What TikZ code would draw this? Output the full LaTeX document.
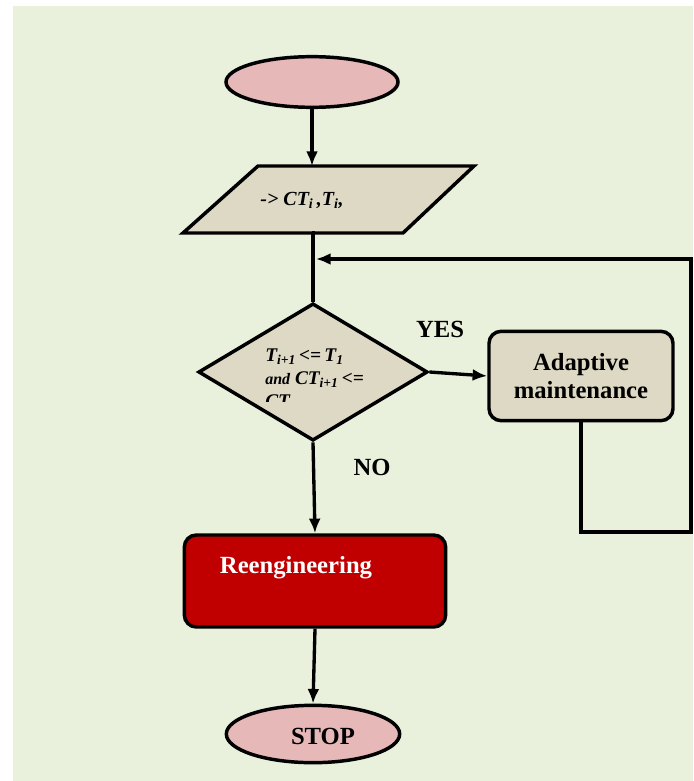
\documentclass[tikz,border=0pt]{standalone}
\usepackage{fontspec}
\setmainfont{Liberation Serif}
\usepackage{tikz}
\usetikzlibrary{positioning,shapes.geometric,arrows.meta}
\definecolor{bgGreen}{RGB}{233,240,220}
\definecolor{pinkFill}{RGB}{230,184,183}
\definecolor{beigeFill}{RGB}{221,217,196}
\definecolor{darkRed}{RGB}{192,0,0}

\begin{document}
\begin{tikzpicture}[x=0.75pt,y=-0.75pt,
	flow/.style={line width=2.5pt,-{Latex[length=11pt,width=9pt]}},
	link/.style={line width=2.5pt},
	terminal/.style={ellipse,draw,line width=2.6pt,fill=pinkFill,inner sep=0pt},
	decision/.style={diamond,draw,line width=2.6pt,fill=beigeFill,inner sep=0pt},
	process/.style={rectangle,rounded corners=9pt,draw,line width=2.6pt,inner sep=0pt},
	tag/.style={font=\fontsize{18.5}{21}\selectfont\bfseries}
	]
				% Page and background
				\useasboundingbox (0,0) rectangle (693,781);
				\fill[bgGreen] (13,6) rectangle (693,781);
				% Start and input
				\node[terminal,minimum width=129pt,minimum height=38pt] (start) at (312,82) {};
				\filldraw[fill=beigeFill,line width=2.6pt,line join=miter] (183,233) -- (258,166) -- (474,166) -- (403,233) -- cycle;
				\coordinate []  (inTop) at (312,166) ;
				\coordinate []  (inBottom) at (312,233) ;
				\node[font=\fontsize{15}{17}\selectfont\bfseries\itshape] (input) at (302,200) {-> CT\textsubscript{i}\,,T\textsubscript{i},};
				% Decision
				\node[decision,minimum width=172pt,minimum height=103pt] (test) at (313,372) {};
				\begin{scope}
				\clip (200,340) rectangle (420,401);
				\node[anchor=north west,align=left,inner sep=0pt,font=\fontsize{14.5}{17}\selectfont\bfseries\itshape] (testtext) at (265,349) {T\textsubscript{i+1}\,<=\,T\textsubscript{1}\\{\fontsize{12}{17}\selectfont and} CT\textsubscript{i+1}\,<=\\CT};
				\end{scope}
				% Branches
				\node[process,fill=beigeFill,minimum width=138pt,minimum height=67pt,align=center,tag] (adapt) at (581,376) {Adaptive\\maintenance};
				\node[process,fill=darkRed,minimum width=196pt,minimum height=69pt] (reeng) at (315,581) {};
				\node[tag,text=white] (reengtext) at (296,568) {Reengineering};
				\node[terminal,minimum width=130pt,minimum height=43pt] (stop) at (313,734) {};
				\node[tag] (stoptext) at (323,736) {STOP};
				\node[tag] (yes) at (440,329) {YES};
				\node[tag] (no) at (372,467) {NO};
				% Connectors
				\coordinate []  (loopR) at (691,532) ;
				\coordinate []  (loopEnd) at (316,259) ;
				\draw[flow] (start.south) -- (inTop);
				\draw[link] (inBottom) -- (inBottom -| test.north) -- (test.north);
				\draw[flow] (test.east) -- (adapt.west);
				\draw[flow] (test.south) -- (reeng.north);
				\draw[flow] (reeng.south) -- (stop.north);
				\draw[flow] (adapt.south) |- (loopR) |- (loopEnd);
\end{tikzpicture}
\end{document}
